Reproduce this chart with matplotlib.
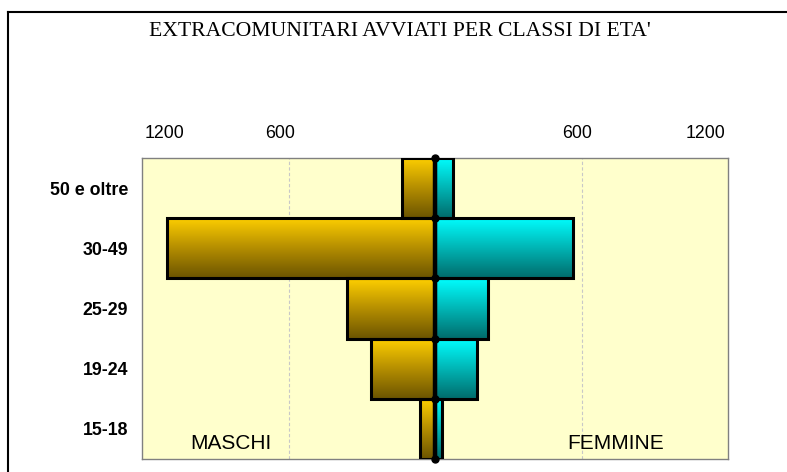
import matplotlib
matplotlib.use("Agg")
import matplotlib.pyplot as plt
import numpy as np
from matplotlib.colors import LinearSegmentedColormap
from matplotlib.patches import Rectangle
from matplotlib.lines import Line2D

# dati: avviati per classe di età (dal basso verso l'alto)
classi = ["15-18", "19-24", "25-29", "30-49", "50 e oltre"]
maschi = [61, 262, 360, 1096, 136]
femmine = [30, 172, 217, 565, 72]
tick_vals = [1200, 600, 600, 1200]

W, H = 787, 472
fig = plt.figure(figsize=(W / 100, H / 100), dpi=100)
fig.patch.set_facecolor("white")

ax = fig.add_axes([142 / W, 1 - 459 / H, 586 / W, 301 / H])
ax.set_facecolor("#FFFFCC")
ax.set_xlim(-1200, 1200)
ax.set_ylim(-0.5, len(classi) - 0.5)

cm_m = LinearSegmentedColormap.from_list("m", ["#6B5400", "#B58E00", "#FFD000"])
cm_f = LinearSegmentedColormap.from_list("f", ["#006B6B", "#00B5B5", "#00FFFF"])
grad = np.linspace(0, 1, 256).reshape(-1, 1)

# griglia verticale tratteggiata
for xv in (-600, 600):
    ax.axvline(xv, color="#C8C8C8", lw=0.8, ls=(0, (3, 2)), zorder=1)

for i, (m, f) in enumerate(zip(maschi, femmine)):
    y0, y1 = i - 0.5, i + 0.5
    for x0, x1, cm in ((-m, 0, cm_m), (0, f, cm_f)):
        ax.imshow(grad, extent=[x0, x1, y0, y1], origin="lower", cmap=cm,
                  aspect="auto", zorder=2, interpolation="bilinear")
        ax.add_patch(Rectangle((x0, y0), x1 - x0, y1 - y0, fill=False,
                               ec="black", lw=2.2, zorder=3))

# asse centrale con i punti sui confini delle classi
yb = np.arange(len(classi) + 1) - 0.5
ax.plot([0] * len(yb), yb, color="black", lw=3.2, marker="o", ms=5,
        zorder=4, clip_on=False)

ax.set_yticks(range(len(classi)))
ax.set_yticklabels(classi, fontsize=12.8, fontweight="bold",
                   family="Liberation Sans")
ax.tick_params(axis="y", length=0, pad=10)
ax.set_xticks([])
for s in ax.spines.values():
    s.set_color("#808080")
    s.set_linewidth(1)

for xv, val in zip([-1106, -635, 581, 1106], tick_vals):
    ax.text(xv, 1.08, str(val), transform=ax.get_xaxis_transform(),
            ha="center", va="center", fontsize=12.8, family="Liberation Sans")

ax.text(-1003, -0.25, "MASCHI", ha="left", va="center", fontsize=15,
        family="Liberation Sans", zorder=5)
ax.text(938, -0.25, "FEMMINE", ha="right", va="center", fontsize=15,
        family="Liberation Sans", zorder=5)

fig.text(400 / W, 1 - 32 / H, "EXTRACOMUNITARI AVVIATI PER CLASSI DI ETA'",
         ha="center", va="center", fontsize=15.6, family="Liberation Serif")

# cornice esterna
fig.add_artist(Line2D([8 / W, 8 / W], [0, 1 - 12 / H], color="black", lw=1.5,
                      transform=fig.transFigure))
fig.add_artist(Line2D([8 / W, 1], [1 - 12 / H, 1 - 12 / H], color="black",
                      lw=1.5, transform=fig.transFigure))

fig.savefig("out.png", dpi=100)
